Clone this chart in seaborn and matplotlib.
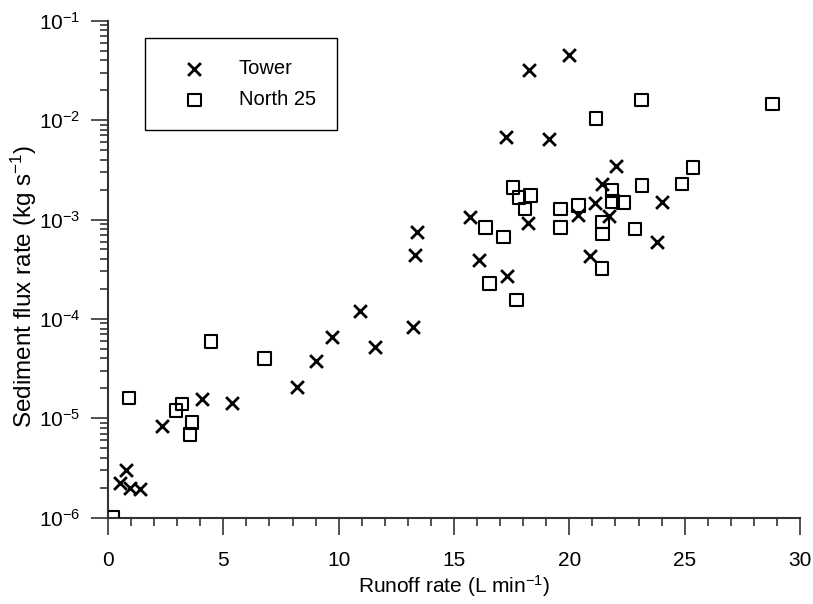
import numpy as np
import pandas as pd
import matplotlib
matplotlib.use("Agg")
import matplotlib.pyplot as plt
import matplotlib.ticker as mticker
import seaborn as sns

tower_x = [0.52, 0.77, 0.95, 1.39, 2.36, 4.09, 5.36, 8.18, 9.02, 9.69, 10.92, 11.57,
           13.21, 13.31, 13.38, 15.69, 16.09, 17.24, 17.28, 18.19, 18.26, 19.13, 19.99,
           20.36, 20.89, 21.12, 21.40, 21.73, 22.02, 23.78, 24.00]
tower_y = [2.25e-6, 3.0e-6, 2.0e-6, 1.93e-6, 8.4e-6, 1.58e-5, 1.43e-5, 2.05e-5, 3.77e-5,
           6.6e-5, 1.21e-4, 5.2e-5, 8.2e-5, 4.4e-4, 7.4e-4, 1.05e-3, 3.9e-4, 6.8e-3,
           2.7e-4, 9.3e-4, 3.19e-2, 6.45e-3, 4.52e-2, 1.11e-3, 4.3e-4, 1.46e-3, 2.28e-3,
           1.09e-3, 3.45e-3, 6.0e-4, 1.49e-3]

north_x = [0.20, 0.92, 2.95, 3.21, 3.55, 3.63, 4.46, 6.79, 16.37, 16.53, 17.14, 17.57,
           17.71, 17.82, 18.07, 18.32, 19.62, 19.62, 20.39, 21.15, 21.42, 21.43, 21.43,
           21.86, 21.87, 22.35, 22.84, 23.13, 23.16, 24.89, 25.36, 28.80]
north_y = [1.02e-6, 1.61e-5, 1.2e-5, 1.39e-5, 6.9e-6, 9.1e-6, 5.9e-5, 4.0e-5, 8.3e-4,
           2.28e-4, 6.7e-4, 2.09e-3, 1.55e-4, 1.66e-3, 1.27e-3, 1.74e-3, 1.27e-3, 8.3e-4,
           1.38e-3, 1.04e-2, 3.2e-4, 9.4e-4, 7.1e-4, 1.95e-3, 1.51e-3, 1.48e-3, 8.0e-4,
           1.59e-2, 2.19e-3, 2.28e-3, 3.35e-3, 1.46e-2]

series_names = ["Tower", "North 25"]
x_label = "Runoff rate (L min$^{-1}$)"
y_label = "Sediment flux rate (kg s$^{-1}$)"

sns.set_style("ticks")
plt.rcParams["font.family"] = ["Liberation Sans", "DejaVu Sans"]
plt.rcParams["mathtext.default"] = "regular"
plt.rcParams["mathtext.fontset"] = "custom"
plt.rcParams["mathtext.rm"] = "Liberation Sans"
plt.rcParams["text.color"] = "black"
plt.rcParams["axes.labelcolor"] = "black"
FS = 15

fig = plt.figure(figsize=(8.13, 6.04), dpi=100)
ax = fig.add_axes([108 / 813, 1 - 517.7 / 604, 692 / 813, 497 / 604])

df_t = pd.DataFrame({"x": tower_x, "y": tower_y})
df_n = pd.DataFrame({"x": north_x, "y": north_y})

sns.scatterplot(data=df_t, x="x", y="y", marker="x", color="black", s=85,
                linewidth=2.0, ax=ax, label=series_names[0], zorder=3)
sns.scatterplot(data=df_n, x="x", y="y", marker="s", facecolor="none",
                edgecolor="black", s=80, linewidth=1.5, ax=ax,
                label=series_names[1], zorder=3)

ax.set_yscale("log")
ax.set_xlim(0, 30)
ax.set_ylim(1e-6, 1e-1)

ax.xaxis.set_major_locator(mticker.MultipleLocator(5))
ax.xaxis.set_minor_locator(mticker.MultipleLocator(1))
ax.yaxis.set_major_locator(mticker.LogLocator(base=10, numticks=10))
ax.yaxis.set_minor_locator(mticker.LogLocator(base=10, subs=np.arange(2, 10), numticks=20))
ax.yaxis.set_minor_formatter(mticker.NullFormatter())
ax.yaxis.set_major_formatter(mticker.FuncFormatter(
    lambda v, p: r"$10^{%d}$" % int(round(np.log10(v)))))

ax.tick_params(axis="both", which="major", direction="out", length=12, width=1.2,
               labelsize=FS, colors="#333333", labelcolor="black")
ax.tick_params(axis="both", which="minor", direction="out", length=6, width=1.2,
               colors="#333333")
ax.tick_params(axis="x", which="major", pad=12)
ax.tick_params(axis="y", which="major", pad=8)

for side in ["top", "right"]:
    ax.spines[side].set_visible(False)
for side in ["left", "bottom"]:
    ax.spines[side].set_linewidth(1.5)
    ax.spines[side].set_color("#333333")

ax.set_xlabel(x_label, fontsize=15, labelpad=2)
ax.set_ylabel(y_label, fontsize=17.5)
ax.yaxis.set_label_coords(-0.1, 0.465)

leg = ax.legend(loc="upper left", bbox_to_anchor=(0.0535, 0.965), fontsize=14.5,
                frameon=True, fancybox=False, edgecolor="black", borderpad=1.05,
                handlelength=2.8, handletextpad=0.8, labelspacing=0.6,
                scatterpoints=1, borderaxespad=0)
leg.get_frame().set_linewidth(1.0)
leg.get_frame().set_alpha(1)
for t in leg.get_texts():
    t.set_color("black")

fig.savefig("out.png", dpi=100)
